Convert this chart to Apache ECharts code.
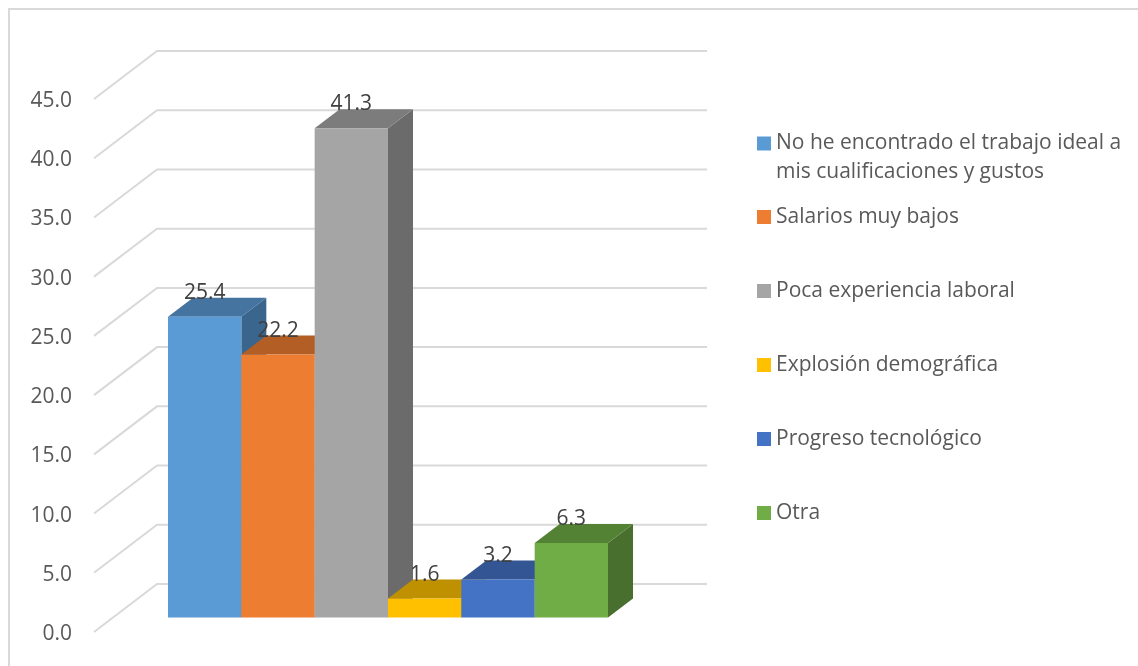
<!DOCTYPE html>
<html>
<head>
<meta charset="utf-8">
<style>
  html, body { margin: 0; padding: 0; background: #fff; }
  #frame { position: absolute; left: 8px; top: 8px; width: 1130px; height: 658px; border-left: 2px solid #d9d9d9; border-top: 2px solid #d9d9d9; box-sizing: border-box; }
  #main { position: absolute; left: 0; top: 0; width: 1138px; height: 666px; }
</style>
<script src="https://cdn.jsdelivr.net/npm/echarts@6/dist/echarts.min.js"></script>
</head>
<body>
<div id="frame"></div>
<div id="main"></div>
<script>
const seriesNames = [
  'No he encontrado el trabajo ideal a mis cualificaciones y gustos',
  'Salarios muy bajos',
  'Poca experiencia laboral',
  'Explosión demográfica',
  'Progreso tecnológico',
  'Otra'
];
const seriesValues = [25.4, 22.2, 41.3, 1.6, 3.2, 6.3];
const yTicks = [0, 5, 10, 15, 20, 25, 30, 35, 40, 45];

const frontColors = ['#5b9bd5', '#ed7d31', '#a5a5a5', '#ffc000', '#4472c4', '#70ad47'];
const topColors = ['#44749f', '#b25e25', '#7c7c7c', '#bf9000', '#335593', '#548235'];
const sideColors = ['#3a658c', '#9b5120', '#6b6b6b', '#a67d00', '#2c4b80', '#496f2e'];

const font = '"Open Sans", sans-serif';
const wallFront = -2; // tick labels sit a little below the wall lines
const wallDepth = [63, -48];
const barPlane = [19, -16.5];
const barDepth = [25, -19];

// side wall and back wall lines for one tick
function renderWall(params, api) {
  const p = api.coord([0, api.value(0)]);
  const band = api.size([1, 0])[0];
  const bx = p[0] - band / 2;
  const by = p[1] + wallFront;
  return {
    type: 'polyline',
    shape: { points: [[bx, by], [bx + wallDepth[0], by + wallDepth[1]], [bx + wallDepth[0] + band, by + wallDepth[1]]] },
    style: { stroke: '#d9d9d9', lineWidth: 2, fill: null }
  };
}

function renderBar(params, api) {
  const i = params.seriesIndex - 1;
  const val = api.value(0);
  const top = api.coord([0, val]);
  const base = api.coord([0, 0]);
  const band = api.size([1, 0])[0];
  const w = band * 0.8 / seriesValues.length;
  const x0 = top[0] - band * 0.4 + i * w + barPlane[0];
  const x1 = x0 + w;
  const yt = top[1] + barPlane[1];
  const yb = base[1] + barPlane[1];
  const dx = barDepth[0], dy = barDepth[1];
  return {
    type: 'group',
    children: [
      { type: 'polygon', shape: { points: [[x1, yt], [x1 + dx, yt + dy], [x1 + dx, yb + dy], [x1, yb]] }, style: { fill: sideColors[i] } },
      { type: 'polygon', shape: { points: [[x0, yt], [x0 + dx, yt + dy], [x1 + dx, yt + dy], [x1, yt]] }, style: { fill: topColors[i] } },
      { type: 'rect', shape: { x: x0, y: yt, width: w, height: yb - yt }, style: { fill: frontColors[i] } }
    ]
  };
}

// labels go last so no bar covers them
function renderLabel(params, api) {
  const i = api.value(0);
  const val = api.value(1);
  const top = api.coord([0, val]);
  const band = api.size([1, 0])[0];
  const w = band * 0.8 / seriesValues.length;
  return {
    type: 'text',
    style: {
      x: top[0] - band * 0.4 + (i + 0.5) * w + barPlane[0],
      y: top[1] + barPlane[1] - 24,
      text: val.toFixed(1),
      font: '21px ' + font,
      fill: '#404040',
      align: 'center',
      verticalAlign: 'middle'
    }
  };
}

const series = [{
  type: 'custom',
  name: 'wall',
  data: yTicks.map(t => [t]),
  encode: { y: 0 },
  renderItem: renderWall,
  silent: true
}];
seriesNames.forEach((name, i) => {
  series.push({
    type: 'custom',
    name: name,
    data: [[seriesValues[i]]],
    encode: { y: 0 },
    itemStyle: { color: frontColors[i] },
    renderItem: renderBar
  });
});
series.push({
  type: 'custom',
  name: 'labels',
  data: seriesValues.map((v, i) => [i, v]),
  encode: { y: 1 },
  renderItem: renderLabel,
  silent: true
});

const legendText = { color: '#595959', fontSize: 21, fontFamily: font, lineHeight: 29, padding: [3, 0, 0, 0] };

const chart = echarts.init(document.getElementById('main'));
chart.setOption({
  animation: false,
  grid: { left: 94, top: 101, width: 550, height: 533 },
  xAxis: {
    type: 'category',
    data: [''],
    axisLine: { show: false },
    axisTick: { show: false },
    axisLabel: { show: false }
  },
  yAxis: {
    type: 'value',
    min: 0,
    max: 45,
    interval: 5,
    axisLine: { show: false },
    axisTick: { show: false },
    splitLine: { show: false },
    axisLabel: {
      margin: 22,
      color: '#595959',
      fontSize: 21,
      fontFamily: font,
      formatter: v => v.toFixed(1)
    }
  },
  legend: [
    {
      // blank first line keeps the swatch level with the first text line
      data: [seriesNames[0]],
      left: 757,
      top: 98.5,
      padding: 0,
      itemWidth: 14,
      itemHeight: 14,
      icon: 'rect',
      selectedMode: false,
      textStyle: legendText,
      formatter: () => '\nNo he encontrado el trabajo ideal a\nmis cualificaciones y gustos'
    },
    {
      data: seriesNames.slice(1),
      orient: 'vertical',
      left: 757,
      top: 201,
      padding: 0,
      itemGap: 42,
      itemWidth: 14,
      itemHeight: 14,
      icon: 'rect',
      selectedMode: false,
      textStyle: legendText
    }
  ],
  series: series
});
</script>
</body>
</html>
